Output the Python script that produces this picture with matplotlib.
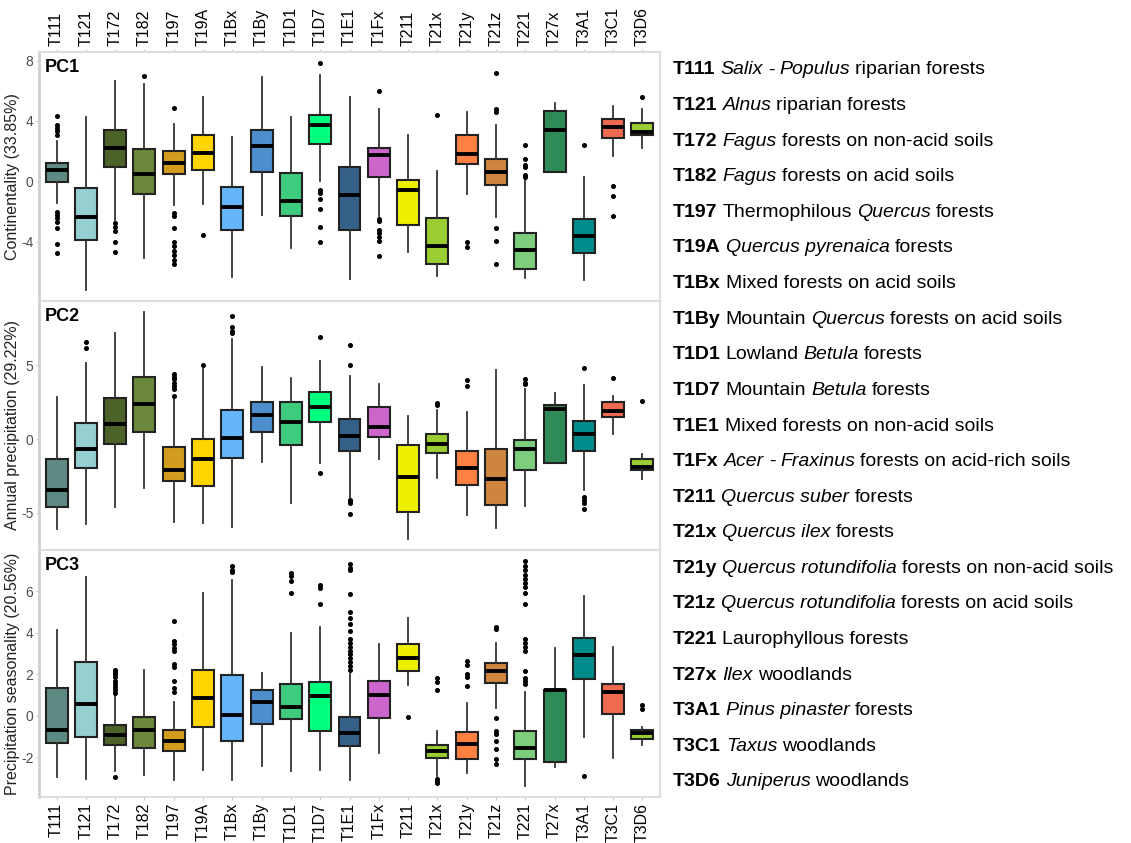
import matplotlib
matplotlib.use("Agg")
import matplotlib.pyplot as plt

plt.rcParams["font.family"] = ["Liberation Sans", "DejaVu Sans"]

#Habitat codes in the order they appear on the x axis
codes = ["T111", "T121", "T172", "T182", "T197", "T19A", "T1Bx", "T1By", "T1D1", "T1D7", "T1E1",
         "T1Fx", "T211", "T21x", "T21y", "T21z", "T221", "T27x", "T3A1", "T3C1", "T3D6"]

colors = ["#5F8A84", "#96CFCF", "#4D6229", "#6B883A", "#D29C1E", "#FFD500", "#64B5FA", "#4C8FCC",
          "#3FCB7E", "#00FF7F", "#356087", "#CC66CC", "#EEEE00", "#9ACD32", "#FF8142", "#CD853F",
          "#7CCD7C", "#2E8B57", "#008B8B", "#EE6A50", "#9ACD32"]

### PC1 - continentality
pc1_lo = [-1.44, -7.18, -2.55, -5.1, -1.6, -1.5, -6.33, -2.2, -4.42, 0.0, -6.49,
          -2.33, -4.71, -6.27, -0.82, -2.38, -6.4, 0.6, -6.51, 1.67, 2.22]
pc1_q1 = [-0.04, -3.9, 0.93, -0.87, 0.49, 0.73, -3.2, 0.6, -2.33, 2.49, -3.2,
          0.31, -2.89, -5.51, 1.16, -0.24, -5.82, 0.6, -4.78, 2.84, 3.09]
pc1_med = [0.73, -2.38, 2.2, 0.47, 1.22, 1.91, -1.73, 2.33, -1.29, 3.71, -0.93,
           1.73, -0.58, -4.31, 1.8, 0.6, -4.53, 3.42, -3.6, 3.58, 3.24]
pc1_q3 = [1.22, -0.44, 3.4, 2.16, 2.0, 3.07, -0.38, 3.4, 0.53, 4.38, 0.93,
          2.18, 0.11, -2.44, 3.09, 1.51, -3.42, 4.64, -2.49, 4.13, 3.84]
pc1_hi = [2.7, 4.29, 6.64, 6.44, 3.82, 5.6, 2.93, 6.93, 4.27, 7.04, 5.56,
          4.78, 3.04, 0.67, 4.6, 3.76, 0.11, 5.16, 0.27, 5.0, 4.82]
pc1_out = [
    [4.33, 3.7, 3.55, 3.33, 3.1, -2.0, -2.2, -2.45, -2.67, -3.1, -4.15, -4.78],
    [],
    [-2.73, -3.0, -3.27, -4.0, -4.71],
    [7.0],
    [4.84, -2.1, -2.33, -3.1, -4.0, -4.3, -4.6, -4.9, -5.2, -5.5],
    [-3.55],
    [],
    [],
    [],
    [7.82, -0.56, -0.78, -1.18, -1.82, -3.0, -4.04],
    [],
    [5.96, -2.51, -2.62, -3.22, -3.4, -3.67, -3.96, -4.93],
    [],
    [4.38],
    [-4.0, -4.33],
    [7.16, 4.78, 4.62, -3.07, -3.98, -5.47],
    [2.44, 1.51, 1.11, 0.96, 0.44, 0.29],
    [],
    [2.42],
    [-0.33, -1.0, -2.27],
    [5.62],
]

### PC2 - annual precipitation
pc2_lo = [-6.09, -5.77, -4.59, -3.3, -5.61, -5.66, -5.95, -1.57, -4.36, -1.59, -4.02,
          -1.34, -6.75, -2.66, -5.16, -6.02, -4.55, -1.59, -3.45, 0.36, -2.73]
pc2_q1 = [-4.59, -1.98, -0.32, 0.5, -2.82, -3.16, -1.25, 0.48, -0.43, 1.14, -0.82,
          0.16, -4.93, -0.95, -3.11, -4.48, -2.11, -1.59, -0.84, 1.5, -2.09]
pc2_med = [-3.45, -0.64, 1.0, 2.39, -2.09, -1.36, 0.09, 1.64, 1.14, 2.18, 0.2,
           0.82, -2.59, -0.32, -1.98, -2.68, -0.7, 2.05, 0.34, 1.91, -1.86]
pc2_q3 = [-1.36, 1.09, 2.8, 4.23, -0.52, 0.02, 2.0, 2.52, 2.52, 3.16, 1.36,
          2.16, -0.39, 0.34, -0.84, -0.66, -0.05, 2.32, 1.2, 2.52, -1.36]
pc2_hi = [2.84, 5.18, 7.18, 8.59, 2.8, 4.73, 6.77, 4.91, 4.16, 5.3, 4.27,
          3.73, 1.55, 1.95, 1.82, 4.66, 3.36, 3.14, 3.68, 2.95, -1.0]
pc2_out = [
    [],
    [6.55, 6.2],
    [],
    [],
    [4.39, 4.23, 4.05, 3.82, 3.6, 3.36, 2.95],
    [5.02],
    [8.36, 7.57, 7.34, 7.18],
    [],
    [],
    [6.93, -2.32],
    [6.36, 5.0, -4.1, -4.2, -4.36, -5.05],
    [],
    [],
    [2.45, 2.3],
    [4.0, 3.59],
    [],
    [4.05, 3.8, 3.7],
    [],
    [4.8, -3.9, -4.14, -4.36, -4.75],
    [4.16],
    [2.55],
]

### PC3 - precipitation seasonality
pc3_lo = [-2.96, -3.04, -2.64, -2.83, -3.07, -2.61, -3.07, -2.43, -2.64, -2.61, -3.07,
          -1.76, 1.47, -2.88, -2.75, 0.37, -3.36, -2.45, -1.01, -2.03, -1.39]
pc3_q1 = [-1.31, -1.01, -1.41, -1.55, -1.68, -0.51, -1.23, -0.4, -0.16, -0.72, -1.44,
          -0.08, 2.16, -2.02, -2.05, 1.58, -2.08, -2.24, 1.78, 0.08, -1.12]
pc3_med = [-0.69, 0.59, -0.93, -0.7, -1.23, 0.88, 0.02, 0.69, 0.43, 0.96, -0.83,
           0.99, 2.8, -1.68, -1.33, 2.14, -1.55, 1.23, 2.93, 1.15, -0.83]
pc3_q3 = [1.34, 2.61, -0.42, -0.03, -0.7, 2.19, 1.95, 1.23, 1.52, 1.63, -0.05,
          1.66, 3.44, -1.39, -0.77, 2.53, -0.72, 1.25, 3.73, 1.55, -0.67]
pc3_hi = [4.13, 6.67, 0.96, 2.19, 0.67, 5.89, 6.56, 2.05, 3.97, 4.27, 2.03,
          3.44, 4.72, -0.72, 0.61, 3.52, 1.17, 3.25, 5.79, 3.31, -0.51]
pc3_out = [
    [],
    [],
    [1.1, 1.25, 1.4, 1.55, 1.7, 1.85, 2.0, 2.1, 2.2, -2.96],
    [],
    [4.56, 3.6, 3.44, 3.28, 3.12, 2.48, 2.35, 1.68, 1.36, 1.17],
    [],
    [7.2, 7.0, 6.9],
    [],
    [6.88, 6.75, 6.51, 5.92],
    [6.32, 6.16, 5.39],
    [7.3, 7.1, 7.0, 5.84, 4.99, 4.69, 4.43, 4.08, 3.7, 3.5, 3.3, 3.1,
     2.96, 2.8, 2.6, 2.4, 2.2],
    [],
    [-0.05],
    [1.81, 1.65, 1.25, -3.04, -3.15, -3.25],
    [2.64, 2.45, 2.0, 1.87, 1.44],
    [4.27, 4.16, -0.11, -0.72, -0.88, -1.2, -1.6, -2.08, -2.29],
    [7.44, 7.2, 7.0, 6.8, 6.6, 6.4, 6.2, 5.9, 5.36, 3.68, 3.5, 3.3, 3.12,
     2.16, 1.84, 1.7, 1.52],
    [],
    [-2.88],
    [],
    [0.53, 0.32],
]

panel_names = ["PC1", "PC2", "PC3"]
axis_titles = ["Continentality (33.85%)", "Annual precipitation (29.22%)",
               "Precipitation seasonality (20.56%)"]
y_ticks = [[-4, 0, 4, 8], [-5, 0, 5], [-2, 0, 2, 4, 6]]

#Legend text, words between * are set in italics
legend_codes = codes
legend_text = [
    "*Salix* - *Populus* riparian forests",
    "*Alnus* riparian forests",
    "*Fagus* forests on non-acid soils",
    "*Fagus* forests on acid soils",
    "Thermophilous *Quercus* forests",
    "*Quercus pyrenaica* forests",
    "Mixed forests on acid soils",
    "Mountain *Quercus* forests on acid soils",
    "Lowland *Betula* forests",
    "Mountain *Betula* forests",
    "Mixed forests on non-acid soils",
    "*Acer* - *Fraxinus* forests on acid-rich soils",
    "*Quercus suber* forests",
    "*Quercus ilex* forests",
    "*Quercus rotundifolia* forests on non-acid soils",
    "*Quercus rotundifolia* forests on acid soils",
    "Laurophyllous forests",
    "*Ilex* woodlands",
    "*Pinus pinaster* forests",
    "*Taxus* woodlands",
    "*Juniperus* woodlands",
]


def box_stats(lo, q1, med, q3, hi, out):
    stats = []
    for i in range(len(codes)):
        stats.append({
            "whislo": lo[i], "q1": q1[i], "med": med[i],
            "q3": q3[i], "whishi": hi[i], "fliers": out[i],
        })
    return stats


panels = [
    box_stats(pc1_lo, pc1_q1, pc1_med, pc1_q3, pc1_hi, pc1_out),
    box_stats(pc2_lo, pc2_q1, pc2_med, pc2_q3, pc2_hi, pc2_out),
    box_stats(pc3_lo, pc3_q1, pc3_med, pc3_q3, pc3_hi, pc3_out),
]

W, H = 1131, 843
fig = plt.figure(figsize=(W / 100, H / 100), dpi=100)

#Panel edges in pixels (top, bottom)
panel_px = [(52, 301), (301, 550), (550, 797)]
left_px, right_px = 39, 660

positions = list(range(len(codes)))

for p in range(3):
    top, bottom = panel_px[p]
    ax = fig.add_axes([left_px / W, 1 - bottom / H, (right_px - left_px) / W, (bottom - top) / H])
    stats = panels[p]

    parts = ax.bxp(
        stats,
        positions=positions,
        widths=0.75,
        patch_artist=True,
        showcaps=False,
        boxprops=dict(edgecolor="#222222", linewidth=1.5),
        medianprops=dict(color="black", linewidth=2.8, solid_capstyle="butt"),
        whiskerprops=dict(color="#333333", linewidth=1.3),
        flierprops=dict(marker="o", markersize=2.6, markerfacecolor="black",
                        markeredgecolor="black", linestyle="none"),
    )
    for patch, c in zip(parts["boxes"], colors):
        patch.set_facecolor(c)

    #ggplot style 5% expansion of the data range
    all_vals = []
    for s in stats:
        all_vals += [s["whislo"], s["whishi"]] + list(s["fliers"])
    lo, hi = min(all_vals), max(all_vals)
    pad = (hi - lo) * 0.05
    ax.set_ylim(lo - pad, hi + pad)
    ax.set_xlim(-0.6, len(codes) - 0.4)

    ax.set_yticks(y_ticks[p])
    ax.set_yticklabels([str(t) for t in y_ticks[p]])
    ax.tick_params(axis="y", labelsize=10, labelcolor="#4D4D4D", length=2, color="#CCCCCC", pad=2)
    ax.set_ylabel(axis_titles[p], fontsize=11.5, color="#222222", labelpad=1)

    ax.set_xticks(positions)
    ax.tick_params(axis="x", length=2, color="#CCCCCC", labelsize=11.5, labelrotation=90, pad=2)
    if p == 0:
        ax.xaxis.set_ticks_position("top")
        ax.xaxis.set_label_position("top")
        ax.set_xticklabels(codes)
    elif p == 2:
        ax.set_xticklabels(codes)
    else:
        ax.set_xticklabels([])

    for side in ["top", "right", "bottom"]:
        ax.spines[side].set_color("#DDDDDD")
        ax.spines[side].set_linewidth(1.5)
    ax.spines["left"].set_color("#CFCFCF")
    ax.spines["left"].set_linewidth(2)

    ax.text(0.01, 0.97, panel_names[p], transform=ax.transAxes, fontsize=13,
            fontweight="bold", ha="left", va="top")

### LEGEND SEGMENT
#Each line is drawn piece by piece so the code can be bold and the genus italic
renderer = fig.canvas.get_renderer()
leg_x = 673
leg_y0, leg_y1 = 70, 782
step = (leg_y1 - leg_y0) / (len(legend_codes) - 1)
space_px = 5

for i, (code, desc) in enumerate(zip(legend_codes, legend_text)):
    y = 1 - (leg_y0 + i * step) / H
    pieces = [(code, "normal", "bold")]
    for j, chunk in enumerate(desc.split("*")):
        if chunk == "":
            continue
        pieces.append((chunk, "italic" if j % 2 == 1 else "normal", "normal"))

    x = leg_x
    for k, (chunk, style, weight) in enumerate(pieces):
        t = fig.text(x / W, y, chunk.strip(), fontsize=14, fontstyle=style,
                     fontweight=weight, ha="left", va="center")
        bb = t.get_window_extent(renderer)
        x = x + bb.width
        #add a gap if the next piece was separated by a space
        if k + 1 < len(pieces):
            nxt = pieces[k + 1][0]
            if chunk.endswith(" ") or nxt.startswith(" ") or k == 0:
                x += space_px

fig.savefig("out.png", dpi=100)
